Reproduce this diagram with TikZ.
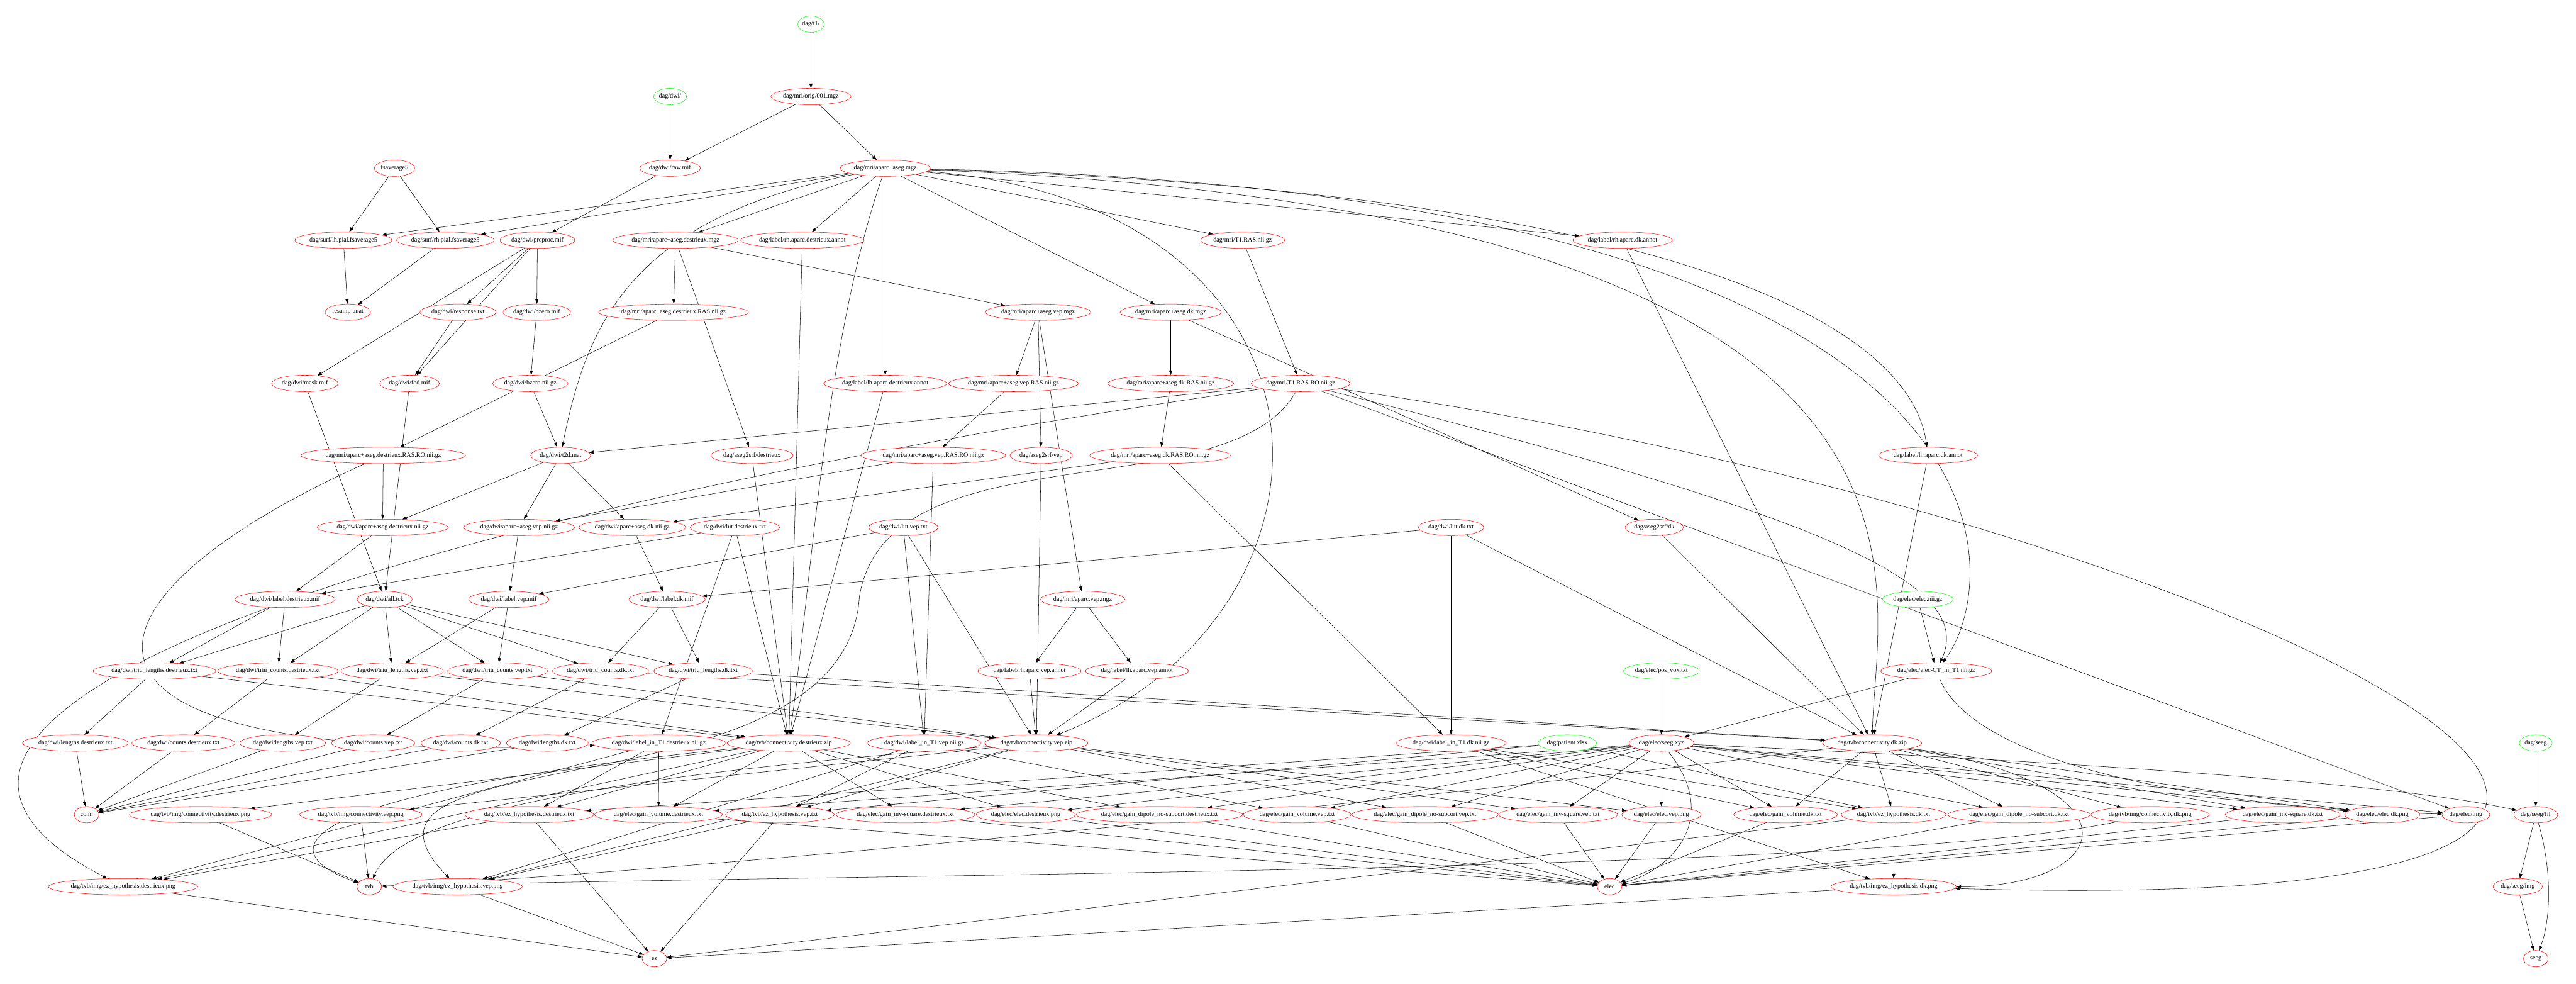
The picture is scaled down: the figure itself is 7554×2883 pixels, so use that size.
\documentclass[tikz,border=0pt]{standalone}
\usepackage{fontspec}
\setmainfont{Liberation Serif}
\usetikzlibrary{arrows.meta,shapes.geometric,positioning,backgrounds}
\tikzset{
  fnode/.style={ellipse,draw=red,fill=white,line width=0.75pt,inner xsep=1pt,inner ysep=1pt,
    minimum width=54pt,minimum height=36pt,font=\fontsize{14}{16}\selectfont},
  srcnode/.style={fnode,draw=green},
  dep/.style={-{Triangle[length=10pt,width=7pt]},line width=0.75pt}
}
\begin{document}
\begin{tikzpicture}[x=0.75pt,y=-0.75pt,line join=round]
\useasboundingbox (0,0) rectangle (7554,2883);
% rank 0-4
\node[srcnode] (t1) at (2378,71) {dag/t1/};
\node[srcnode] (dwi) at (1965,283) {dag/dwi/};
\node[fnode] (orig) at (2378,283) {dag/mri/orig/001.mgz};
\node[fnode] (fsavg) at (1157,493) {fsaverage5};
\node[fnode] (raw) at (1965,493) {dag/dwi/raw.mif};
\node[fnode] (aparc) at (2596,493) {dag/mri/aparc+aseg.mgz};
\node[fnode] (lhpial) at (1007,704) {dag/surf/lh.pial.fsaverage5};
\node[fnode] (rhpial) at (1306,704) {dag/surf/rh.pial.fsaverage5};
\node[fnode] (preproc) at (1576,704) {dag/dwi/preproc.mif};
\node[fnode] (destmgz) at (1981,704) {dag/mri/aparc+aseg.destrieux.mgz};
\node[fnode] (rhdestannot) at (2353,704) {dag/label/rh.aparc.destrieux.annot};
\node[fnode] (t1ras) at (3644,704) {dag/mri/T1.RAS.nii.gz};
\node[fnode] (rhdkannot) at (4758,704) {dag/label/rh.aparc.dk.annot};
\node[fnode] (resamp) at (1020,915) {resamp-anat};
\node[fnode] (response) at (1343,915) {dag/dwi/response.txt};
\node[fnode] (bzeromif) at (1574,915) {dag/dwi/bzero.mif};
\node[fnode] (destras) at (1975,915) {dag/mri/aparc+aseg.destrieux.RAS.nii.gz};
\node[fnode] (vepmgz) at (3044,915) {dag/mri/aparc+aseg.vep.mgz};
\node[fnode] (dkmgz) at (3433,915) {dag/mri/aparc+aseg.dk.mgz};
% rank 5-8
\node[fnode] (mask) at (894,1124) {dag/dwi/mask.mif};
\node[fnode] (fod) at (1201,1124) {dag/dwi/fod.mif};
\node[fnode] (bzeronii) at (1555,1124) {dag/dwi/bzero.nii.gz};
\node[fnode] (lhdestannot) at (2596,1124) {dag/label/lh.aparc.destrieux.annot};
\node[fnode] (vepras) at (2972,1124) {dag/mri/aparc+aseg.vep.RAS.nii.gz};
\node[fnode] (dkras) at (3433,1124) {dag/mri/aparc+aseg.dk.RAS.nii.gz};
\node[fnode] (t1rasro) at (3814,1124) {dag/mri/T1.RAS.RO.nii.gz};
\node[fnode] (destrasro) at (1124,1335) {dag/mri/aparc+aseg.destrieux.RAS.RO.nii.gz};
\node[fnode] (t2d) at (1644,1335) {dag/dwi/t2d.mat};
\node[fnode] (srfdest) at (2205,1335) {dag/aseg2srf/destrieux};
\node[fnode] (veprasro) at (2737,1335) {dag/mri/aparc+aseg.vep.RAS.RO.nii.gz};
\node[fnode] (srfvep) at (3053,1335) {dag/aseg2srf/vep};
\node[fnode] (dkrasro) at (3402,1335) {dag/mri/aparc+aseg.dk.RAS.RO.nii.gz};
\node[fnode] (lhdkannot) at (5654,1335) {dag/label/lh.aparc.dk.annot};
\node[fnode] (dwidest) at (1122,1546) {dag/dwi/aparc+aseg.destrieux.nii.gz};
\node[fnode] (dwivep) at (1522,1546) {dag/dwi/aparc+aseg.vep.nii.gz};
\node[fnode] (dwidk) at (1854,1546) {dag/dwi/aparc+aseg.dk.nii.gz};
\node[fnode] (lutdest) at (2155,1546) {dag/dwi/lut.destrieux.txt};
\node[fnode] (lutvep) at (2649,1546) {dag/dwi/lut.vep.txt};
\node[fnode] (lutdk) at (4255,1546) {dag/dwi/lut.dk.txt};
\node[fnode] (srfdk) at (4851,1546) {dag/aseg2srf/dk};
\node[fnode] (labdest) at (836,1757) {dag/dwi/label.destrieux.mif};
\node[fnode] (alltck) at (1128,1757) {dag/dwi/all.tck};
\node[fnode] (labvep) at (1492,1757) {dag/dwi/label.vep.mif};
\node[fnode] (labdk) at (1956,1757) {dag/dwi/label.dk.mif};
\node[fnode] (aparcvep) at (3175,1757) {dag/mri/aparc.vep.mgz};
\node[srcnode] (elecnii) at (5624,1757) {dag/elec/elec.nii.gz};
% rank 9-10
\node[fnode] (tlendest) at (453,1967) {dag/dwi/triu\_lengths.destrieux.txt};
\node[fnode] (tcntdest) at (815,1967) {dag/dwi/triu\_counts.destrieux.txt};
\node[fnode] (tlenvep) at (1150,1967) {dag/dwi/triu\_lengths.vep.txt};
\node[fnode] (tcntvep) at (1459,1967) {dag/dwi/triu\_counts.vep.txt};
\node[fnode] (tcntdk) at (1761,1967) {dag/dwi/triu\_counts.dk.txt};
\node[fnode] (tlendk) at (2062,1967) {dag/dwi/triu\_lengths.dk.txt};
\node[fnode] (rhvepannot) at (3019,1967) {dag/label/rh.aparc.vep.annot};
\node[fnode] (lhvepannot) at (3334,1967) {dag/label/lh.aparc.vep.annot};
\node[srcnode] (posvox) at (4872,1967) {dag/elec/pos\_vox.txt};
\node[fnode] (elecct) at (5678,1967) {dag/elec/elec-CT\_in\_T1.nii.gz};
\node[fnode] (lendest) at (221,2178) {dag/dwi/lengths.destrieux.txt};
\node[fnode] (cntdest) at (538,2178) {dag/dwi/counts.destrieux.txt};
\node[fnode] (lenvep) at (829,2178) {dag/dwi/lengths.vep.txt};
\node[fnode] (cntvep) at (1094,2178) {dag/dwi/counts.vep.txt};
\node[fnode] (cntdk) at (1351,2178) {dag/dwi/counts.dk.txt};
\node[fnode] (lendk) at (1605,2178) {dag/dwi/lengths.dk.txt};
\node[fnode] (lt1dest) at (1932,2178) {dag/dwi/label\_in\_T1.destrieux.nii.gz};
\node[fnode] (cdestzip) at (2313,2178) {dag/tvb/connectivity.destrieux.zip};
\node[fnode] (lt1vep) at (2710,2178) {dag/dwi/label\_in\_T1.vep.nii.gz};
\node[fnode] (cvepzip) at (3039,2178) {dag/tvb/connectivity.vep.zip};
\node[fnode] (lt1dk) at (4255,2178) {dag/dwi/label\_in\_T1.dk.nii.gz};
\node[srcnode] (patient) at (4596,2178) {dag/patient.xlsx};
\node[fnode] (seegxyz) at (4872,2178) {dag/elec/seeg.xyz};
\node[fnode] (cdkzip) at (5490,2178) {dag/tvb/connectivity.dk.zip};
\node[srcnode] (dagseeg) at (7436,2178) {dag/seeg};
% rank 11-13
\node[fnode] (conn) at (254,2388) {conn};
\node[fnode] (cdestpng) at (588,2388) {dag/tvb/img/connectivity.destrieux.png};
\node[fnode] (cveppng) at (1058,2388) {dag/tvb/img/connectivity.vep.png};
\node[fnode] (ezdesttxt) at (1552,2388) {dag/tvb/ez\_hypothesis.destrieux.txt};
\node[fnode] (gvoldest) at (1931,2388) {dag/elec/gain\_volume.destrieux.txt};
\node[fnode] (ezveptxt) at (2287,2388) {dag/tvb/ez\_hypothesis.vep.txt};
\node[fnode] (ginvdest) at (2655,2388) {dag/elec/gain\_inv-square.destrieux.txt};
\node[fnode] (elecdestpng) at (3008,2388) {dag/elec/elec.destrieux.png};
\node[fnode] (gdipdest) at (3400,2388) {dag/elec/gain\_dipole\_no-subcort.destrieux.txt};
\node[fnode] (gvolvep) at (3804,2388) {dag/elec/gain\_volume.vep.txt};
\node[fnode] (gdipvep) at (4179,2388) {dag/elec/gain\_dipole\_no-subcort.vep.txt};
\node[fnode] (ginvvep) at (4569,2388) {dag/elec/gain\_inv-square.vep.txt};
\node[fnode] (elecveppng) at (4872,2388) {dag/elec/elec.vep.png};
\node[fnode] (gvoldk) at (5236,2388) {dag/elec/gain\_volume.dk.txt};
\node[fnode] (ezdktxt) at (5553,2388) {dag/tvb/ez\_hypothesis.dk.txt};
\node[fnode] (gdipdk) at (5921,2388) {dag/elec/gain\_dipole\_no-subcort.dk.txt};
\node[fnode] (cdkpng) at (6305,2388) {dag/tvb/img/connectivity.dk.png};
\node[fnode] (ginvdk) at (6694,2388) {dag/elec/gain\_inv-square.dk.txt};
\node[fnode] (elecdkpng) at (6986,2388) {dag/elec/elec.dk.png};
\node[fnode] (elecimg) at (7231,2388) {dag/elec/img};
\node[fnode] (seegfif) at (7436,2388) {dag/seeg/fif};
\node[fnode] (ezdestpng) at (361,2599) {dag/tvb/img/ez\_hypothesis.destrieux.png};
\node[fnode] (tvb) at (1083,2599) {tvb};
\node[fnode] (ezveppng) at (1342,2599) {dag/tvb/img/ez\_hypothesis.vep.png};
\node[fnode] (elec) at (4720,2599) {elec};
\node[fnode] (ezdkpng) at (5553,2599) {dag/tvb/img/ez\_hypothesis.dk.png};
\node[fnode] (seegimg) at (7383,2599) {dag/seeg/img};
\node[fnode] (ez) at (1919,2810) {ez};
\node[fnode] (seeg) at (7436,2810) {seeg};

\begin{scope}[on background layer]
\fill[white] (0,0) rectangle (7554,2883);
% anatomy
\draw[dep] (t1) -- (orig);
\draw[dep] (dwi) -- (raw);
\draw[dep] (orig) -- (raw);
\draw[dep] (orig) -- (aparc);
\draw[dep] (fsavg) -- (lhpial);
\draw[dep] (fsavg) -- (rhpial);
\draw[dep] (aparc) -- (lhpial);
\draw[dep] (aparc) -- (rhpial);
\draw[dep] (lhpial) -- (resamp);
\draw[dep] (rhpial) -- (resamp);
\draw[dep] (aparc) -- (destmgz);
\draw[dep] (aparc) -- (rhdestannot);
\draw[dep] (aparc) -- (lhdestannot);
\draw[dep] (aparc) -- (dkmgz);
\draw[dep] (aparc) -- (t1ras);
\draw[dep] (aparc) -- (rhdkannot);
\draw[dep] (aparc) .. controls (4900,560) and (5600,950) .. (lhdkannot);
\draw[dep] (aparc) .. controls (2420,1000) and (2380,1700) .. (cdestzip);
\draw[dep] (aparc) .. controls (3990,600) and (4000,1800) .. (cvepzip);
\draw[dep] (aparc) .. controls (5850,620) and (5500,1700) .. (cdkzip);
\draw[dep] (aparc) .. controls (6000,560) and (5880,1700) .. (elecct);
\draw[dep] (aparc) .. controls (1850,640) and (1720,950) .. (t2d);
\draw[dep] (destmgz) -- (vepmgz);
\draw[dep] (destmgz) -- (destras);
\draw[dep] (destmgz) -- (srfdest);
\draw[dep] (destras) -- (destrasro);
\draw[dep] (vepmgz) -- (vepras);
\draw[dep] (vepmgz) -- (srfvep);
\draw[dep] (vepmgz) -- (aparcvep);
\draw[dep] (dkmgz) -- (dkras);
\draw[dep] (dkmgz) -- (srfdk);
\draw[dep] (t1ras) -- (t1rasro);
\draw[dep] (vepras) -- (veprasro);
\draw[dep] (dkras) -- (dkrasro);
\draw[dep] (aparcvep) -- (rhvepannot);
\draw[dep] (aparcvep) -- (lhvepannot);
% diffusion
\draw[dep] (raw) -- (preproc);
\draw[dep] (preproc) -- (response);
\draw[dep] (preproc) -- (bzeromif);
\draw[dep] (preproc) -- (mask);
\draw[dep] (preproc) -- (fod);
\draw[dep] (response) -- (fod);
\draw[dep] (bzeromif) -- (bzeronii);
\draw[dep] (bzeronii) -- (t2d);
\draw[dep] (t1rasro) -- (t2d);
\draw[dep] (destrasro) -- (dwidest);
\draw[dep] (t2d) -- (dwidest);
\draw[dep] (t2d) -- (dwivep);
\draw[dep] (t2d) -- (dwidk);
\draw[dep] (veprasro) -- (dwivep);
\draw[dep] (dkrasro) -- (dwidk);
\draw[dep] (dwidest) -- (labdest);
\draw[dep] (lutdest) -- (labdest);
\draw[dep] (dwivep) -- (labvep);
\draw[dep] (lutvep) -- (labvep);
\draw[dep] (dwidk) -- (labdk);
\draw[dep] (lutdk) -- (labdk);
\draw[dep] (mask) -- (alltck);
\draw[dep] (fod) -- (alltck);
\draw[dep] (alltck) -- (tlendest);
\draw[dep] (alltck) -- (tcntdest);
\draw[dep] (alltck) -- (tlenvep);
\draw[dep] (alltck) -- (tcntvep);
\draw[dep] (alltck) -- (tcntdk);
\draw[dep] (alltck) -- (tlendk);
\draw[dep] (labdest) -- (tlendest);
\draw[dep] (labdest) -- (tcntdest);
\draw[dep] (labvep) -- (tlenvep);
\draw[dep] (labvep) -- (tcntvep);
\draw[dep] (labdk) -- (tcntdk);
\draw[dep] (labdk) -- (tlendk);
\draw[dep] (tlendest) -- (lendest);
\draw[dep] (tcntdest) -- (cntdest);
\draw[dep] (tlenvep) -- (lenvep);
\draw[dep] (tcntvep) -- (cntvep);
\draw[dep] (tcntdk) -- (cntdk);
\draw[dep] (tlendk) -- (lendk);
\draw[dep] (lendest) -- (conn);
\draw[dep] (cntdest) -- (conn);
\draw[dep] (lenvep) -- (conn);
\draw[dep] (cntvep) -- (conn);
\draw[dep] (cntdk) -- (conn);
\draw[dep] (lendk) -- (conn);
% labels in T1 and connectivity
\draw[dep] (destrasro) .. controls (200,1750) and (0,2250) .. (lt1dest);
\draw[dep] (lutdest) -- (lt1dest);
\draw[dep] (veprasro) -- (lt1vep);
\draw[dep] (lutvep) -- (lt1vep);
\draw[dep] (dkrasro) -- (lt1dk);
\draw[dep] (lutdk) -- (lt1dk);
\draw[dep] (tlendest) -- (cdestzip);
\draw[dep] (tcntdest) -- (cdestzip);
\draw[dep] (lutdest) -- (cdestzip);
\draw[dep] (srfdest) -- (cdestzip);
\draw[dep] (rhdestannot) -- (cdestzip);
\draw[dep] (lhdestannot) -- (cdestzip);
\draw[dep] (tlenvep) -- (cvepzip);
\draw[dep] (tcntvep) -- (cvepzip);
\draw[dep] (lutvep) -- (cvepzip);
\draw[dep] (srfvep) -- (cvepzip);
\draw[dep] (rhvepannot) -- (cvepzip);
\draw[dep] (lhvepannot) -- (cvepzip);
\draw[dep] (tcntdk) -- (cdkzip);
\draw[dep] (tlendk) -- (cdkzip);
\draw[dep] (lutdk) -- (cdkzip);
\draw[dep] (srfdk) -- (cdkzip);
\draw[dep] (rhdkannot) -- (cdkzip);
\draw[dep] (lhdkannot) -- (cdkzip);
\draw[dep] (cdestzip) -- (cdestpng);
\draw[dep] (cvepzip) -- (cveppng);
\draw[dep] (cdkzip) -- (cdkpng);
\draw[dep] (cdestpng) -- (tvb);
\draw[dep] (cveppng) -- (tvb);
\draw[dep] (cdestzip) .. controls (800,2330) and (800,2500) .. (tvb);
\draw[dep] (cvepzip) .. controls (1400,2300) and (1150,2450) .. (tvb);
\draw[dep] (cdkzip) .. controls (4300,2330) and (2000,2560) .. (tvb);
\draw[dep] (cdkpng) .. controls (5500,2560) and (2500,2560) .. (tvb);
% electrodes
\draw[dep] (elecnii) -- (elecct);
\draw[dep] (t1rasro) .. controls (5300,1500) and (5800,1700) .. (elecct);
\draw[dep] (posvox) -- (seegxyz);
\draw[dep] (elecct) -- (seegxyz);
\draw[dep] (lt1dest) -- (gvoldest);
\draw[dep] (cdestzip) -- (gvoldest);
\draw[dep] (seegxyz) -- (gvoldest);
\draw[dep] (cdestzip) -- (ginvdest);
\draw[dep] (seegxyz) -- (ginvdest);
\draw[dep] (cdestzip) -- (gdipdest);
\draw[dep] (seegxyz) -- (gdipdest);
\draw[dep] (cdestzip) -- (elecdestpng);
\draw[dep] (seegxyz) -- (elecdestpng);
\draw[dep] (lt1vep) -- (gvolvep);
\draw[dep] (seegxyz) -- (gvolvep);
\draw[dep] (cvepzip) -- (ginvvep);
\draw[dep] (seegxyz) -- (ginvvep);
\draw[dep] (cvepzip) -- (gdipvep);
\draw[dep] (seegxyz) -- (gdipvep);
\draw[dep] (cvepzip) -- (elecveppng);
\draw[dep] (seegxyz) -- (elecveppng);
\draw[dep] (lt1dk) -- (gvoldk);
\draw[dep] (cdkzip) -- (gvoldk);
\draw[dep] (seegxyz) -- (gvoldk);
\draw[dep] (cdkzip) -- (ginvdk);
\draw[dep] (seegxyz) -- (ginvdk);
\draw[dep] (cdkzip) -- (gdipdk);
\draw[dep] (seegxyz) -- (gdipdk);
\draw[dep] (cdkzip) -- (elecdkpng);
\draw[dep] (seegxyz) -- (elecdkpng);
\draw[dep] (seegxyz) -- (elecimg);
\draw[dep] (t1rasro) -- (elecimg);
\draw[dep] (elecct) .. controls (5800,2250) and (6500,2370) .. (elecimg);
\foreach \g in {gvoldest,ginvdest,elecdestpng,gdipdest,gvolvep,gdipvep,ginvvep,elecveppng,
  gvoldk,gdipdk,ginvdk,elecdkpng,elecimg}
  \draw[dep] (\g) -- (elec);
\draw[dep] (seegxyz) .. controls (5050,2400) and (4900,2550) .. (elec);
% epileptogenic zone
\draw[dep] (lt1dest) -- (ezdesttxt);
\draw[dep] (cdestzip) -- (ezdesttxt);
\draw[dep] (patient) -- (ezdesttxt);
\draw[dep] (lt1vep) -- (ezveptxt);
\draw[dep] (cvepzip) -- (ezveptxt);
\draw[dep] (patient) -- (ezveptxt);
\draw[dep] (lt1dk) -- (ezdktxt);
\draw[dep] (cdkzip) -- (ezdktxt);
\draw[dep] (patient) -- (ezdktxt);
\draw[dep] (ezdesttxt) -- (ezdestpng);
\draw[dep] (lt1dest) -- (ezdestpng);
\draw[dep] (cdestzip) -- (ezdestpng);
\draw[dep] (t1rasro) .. controls (1500,1450) and (-700,2050) .. (ezdestpng);
\draw[dep] (ezveptxt) -- (ezveppng);
\draw[dep] (lt1vep) -- (ezveppng);
\draw[dep] (cvepzip) -- (ezveppng);
\draw[dep] (t1rasro) .. controls (3600,1500) and (2600,1250) .. (2520,1750)
  .. controls (2480,2400) and (900,2150) .. (ezveppng);
\draw[dep] (ezdktxt) -- (ezdkpng);
\draw[dep] (lt1dk) -- (ezdkpng);
\draw[dep] (cdkzip) .. controls (6300,2300) and (6200,2600) .. (ezdkpng);
\draw[dep] (t1rasro) .. controls (6500,1500) and (9000,2700) .. (ezdkpng);
\draw[dep] (ezdestpng) -- (ez);
\draw[dep] (ezdesttxt) -- (ez);
\draw[dep] (ezveppng) -- (ez);
\draw[dep] (ezveptxt) -- (ez);
\draw[dep] (ezdktxt) -- (ez);
\draw[dep] (ezdkpng) -- (ez);
% seeg
\draw[dep] (dagseeg) -- (seegfif);
\draw[dep] (seegxyz) .. controls (6000,2230) and (7000,2290) .. (seegfif);
\draw[dep] (seegfif) -- (seegimg);
\draw[dep] (seegfif) .. controls (7485,2550) and (7480,2700) .. (seeg);
\draw[dep] (seegimg) -- (seeg);
\end{scope}
\end{tikzpicture}
\end{document}
